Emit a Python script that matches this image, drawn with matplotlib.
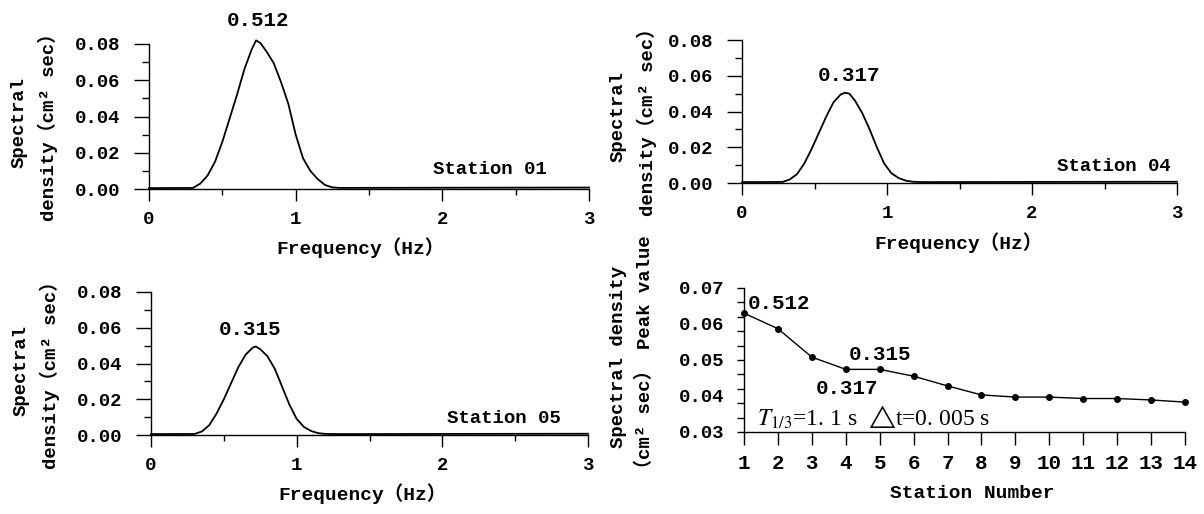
import numpy as np
import matplotlib
matplotlib.use("Agg")
import matplotlib.pyplot as plt
from matplotlib.ticker import MultipleLocator, FixedLocator

# spectra read per station: frequency (Hz) and spectral density
freq_01 = [0, 0.30, 0.35, 0.40, 0.45, 0.50, 0.55, 0.60, 0.65, 0.70, 0.73, 0.76, 0.80,
           0.85, 0.90, 0.95, 1.00, 1.05, 1.10, 1.15, 1.20, 1.25, 1.30, 2.0, 3.0]
dens_01 = [0.0005, 0.0006, 0.003, 0.0075, 0.015, 0.026, 0.039, 0.052, 0.066, 0.077, 0.082,
           0.0805, 0.076, 0.0695, 0.059, 0.047, 0.030, 0.017, 0.010, 0.0055, 0.0022,
           0.0009, 0.0006, 0.0007, 0.0008]

freq_04 = [0, 0.28, 0.33, 0.38, 0.43, 0.48, 0.53, 0.58, 0.63, 0.68, 0.71, 0.74, 0.78,
           0.83, 0.88, 0.93, 0.98, 1.03, 1.08, 1.13, 1.18, 1.25, 2.0, 3.0]
dens_04 = [0.0005, 0.0006, 0.002, 0.005, 0.011, 0.019, 0.028, 0.037, 0.045, 0.0495, 0.0505,
           0.050, 0.046, 0.039, 0.030, 0.020, 0.011, 0.0055, 0.0028, 0.0013, 0.0007,
           0.0005, 0.0006, 0.0007]

freq_05 = [0, 0.30, 0.35, 0.40, 0.45, 0.50, 0.55, 0.60, 0.65, 0.70, 0.72, 0.75, 0.80,
           0.85, 0.90, 0.95, 1.00, 1.05, 1.10, 1.15, 1.20, 1.30, 2.0, 3.0]
dens_05 = [0.0005, 0.0006, 0.002, 0.0055, 0.012, 0.020, 0.029, 0.038, 0.045, 0.049, 0.0495,
           0.048, 0.044, 0.037, 0.027, 0.017, 0.009, 0.0045, 0.0022, 0.001, 0.0006,
           0.0005, 0.0006, 0.0007]

# peak spectral density along the stations
stations = list(range(1, 15))
peak_values = [0.0630, 0.0587, 0.0508, 0.0474, 0.0474, 0.0455, 0.0428,
               0.0403, 0.0397, 0.0397, 0.0393, 0.0393, 0.0389, 0.0383]

plt.rcParams["mathtext.fontset"] = "stix"

W, H = 1204, 514
MONO = ["Liberation Mono", "Noto Sans CJK SC"]
FS = 13.7

fig = plt.figure(figsize=(W / 100, H / 100), dpi=100)


def add_axes_px(x0, x1, ytop, ybot):
    return fig.add_axes([x0 / W, 1 - ybot / H, (x1 - x0) / W, (ybot - ytop) / H])


def fig_text_px(x, y, s, **kw):
    kw.setdefault("family", MONO)
    kw.setdefault("fontsize", FS)
    kw.setdefault("fontweight", "bold")
    return fig.text(x / W, 1 - y / H, s, ha="center", va="center", **kw)


def style_ticks(ax):
    for lab in ax.get_xticklabels() + ax.get_yticklabels():
        lab.set_fontfamily(MONO)
        lab.set_fontweight("bold")
        lab.set_fontsize(FS)
    for s in ("top", "right"):
        ax.spines[s].set_visible(False)
    for s in ("left", "bottom"):
        ax.spines[s].set_linewidth(1.0)


def spectrum_panel(rect, f, d, peak_txt, peak_xy, station_txt, station_xy):
    ax = add_axes_px(*rect)
    ax.plot(f, d, color="black", lw=1.3, clip_on=False)
    ax.set_xlim(0, 3)
    ax.set_ylim(0, 0.08)
    ax.xaxis.set_major_locator(MultipleLocator(1))
    ax.xaxis.set_minor_locator(MultipleLocator(0.5))
    ax.yaxis.set_major_locator(MultipleLocator(0.02))
    ax.yaxis.set_minor_locator(MultipleLocator(0.01))
    ax.xaxis.set_major_formatter(lambda v, p: f"{v:.0f}")
    ax.yaxis.set_major_formatter(lambda v, p: f"{v:.2f}")
    ax.tick_params(axis="x", which="major", direction="out", length=8.5, width=1.0, pad=7)
    ax.tick_params(axis="x", which="minor", direction="out", length=4.5, width=1.0)
    ax.tick_params(axis="y", which="major", direction="out", length=10.5, width=1.0, pad=10)
    ax.tick_params(axis="y", which="minor", direction="out", length=5, width=1.0)
    style_ticks(ax)
    ax.text(peak_xy[0], peak_xy[1], peak_txt, family=MONO, fontsize=15,
            fontweight="bold", ha="center", va="center")
    ax.text(station_xy[0], station_xy[1], station_txt, family=MONO, fontsize=FS,
            fontweight="bold", ha="right", va="center")
    return ax


spectrum_panel((149, 589, 44, 189), freq_01, dens_01, "0.512", (0.74, 0.0927),
               "Station 01", (2.71, 0.0105))
spectrum_panel((742, 1177, 40, 183), freq_04, dens_04, "0.317", (0.74, 0.0599),
               "Station 04", (2.96, 0.0095))
spectrum_panel((151, 588, 292, 435), freq_05, dens_05, "0.315", (0.68, 0.0593),
               "Station 05", (2.81, 0.009))

# axis titles of the three spectra
ylab_spec = "Spectral\ndensity（cm² sec）"
for x, y in [(34, 122), (633, 117), (36, 370)]:
    fig_text_px(x, y, ylab_spec, rotation=90, linespacing=1.6, multialignment="center")
for x, y in [(361, 248), (958, 243), (362, 494)]:
    fig_text_px(x, y, "Frequency（Hz）", fontsize=14)

# peak value versus station number
ax = add_axes_px(744, 1185, 288, 432)
ax.plot(stations, peak_values, color="black", lw=1.0, marker="o", ms=4, clip_on=False)
ax.set_xlim(1, 14)
ax.set_ylim(0.03, 0.07)
ax.set_xticks(stations)
ax.set_yticks([0.03, 0.04, 0.05, 0.06, 0.07])
ax.yaxis.set_major_formatter(lambda v, p: f"{v:.2f}")
ax.yaxis.set_minor_locator(FixedLocator(np.linspace(0.03, 0.07, 11)))
ax.yaxis.remove_overlapping_locs = False
ax.tick_params(axis="x", which="major", direction="out", length=9.5, width=1.0, pad=6)
ax.tick_params(axis="y", which="major", direction="out", length=0, pad=14)
ax.tick_params(axis="y", which="minor", direction="out", length=5, width=1.0)
style_ticks(ax)
for lab in ax.get_xticklabels():
    lab.set_fontsize(15)
fig_text_px(972, 494, "Station Number", fontsize=14)
fig_text_px(632, 357, "Spectral density\n（cm² sec） Peak value", rotation=90,
            linespacing=1.6, multialignment="center")
ax.text(1.12, 0.0658, "0.512", family=MONO, fontsize=15, fontweight="bold",
        ha="left", va="center")
ax.text(5.01, 0.0514, "0.315", family=MONO, fontsize=15, fontweight="bold",
        ha="center", va="center")
ax.text(4.04, 0.0422, "0.317", family=MONO, fontsize=15, fontweight="bold",
        ha="center", va="center")
ax.text(1.38, 0.0342, r"$T_{1/3}$=1. 1 s  $\bigtriangleup$t=0. 005 s",
        family="Liberation Serif", fontsize=17, ha="left", va="center")

fig.savefig("out.png", dpi=100)
